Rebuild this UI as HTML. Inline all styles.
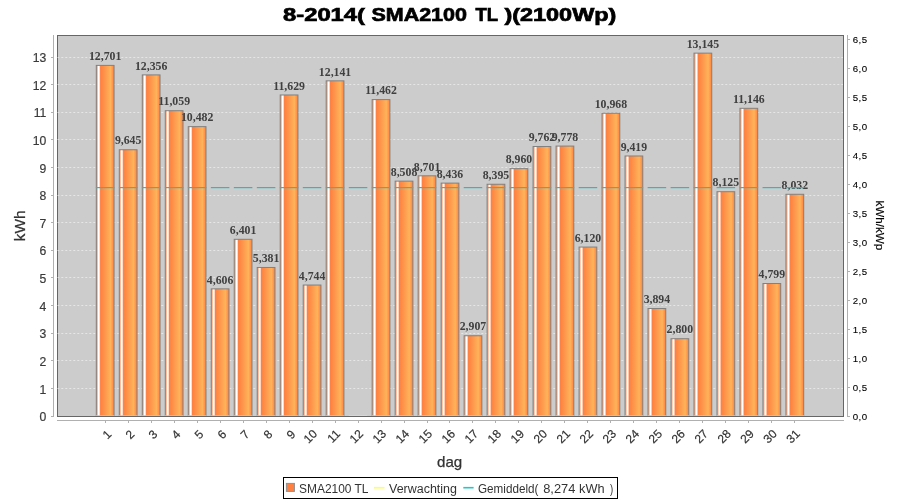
<!DOCTYPE html>
<html><head><meta charset="utf-8"><title>8-2014( SMA2100 TL )(2100Wp)</title>
<style>
html,body{margin:0;padding:0;background:#fff;}
body{width:900px;height:500px;overflow:hidden;position:relative;font-family:"Liberation Sans",sans-serif;}
svg{position:absolute;left:0;top:0;will-change:transform;}
text{font-family:"Liberation Sans",sans-serif;}
.v{font-family:"Liberation Serif",serif;font-weight:bold;font-size:11.8px;fill:#404040;text-anchor:middle;}
.ly{font-size:12.2px;fill:#3a3a3a;stroke:#3a3a3a;stroke-width:0.2px;text-anchor:end;}
.ry{font-size:9.7px;fill:#000;stroke:#000;stroke-width:0.1px;text-anchor:start;}
.cx{font-size:12px;fill:#333;stroke:#333;stroke-width:0.2px;text-anchor:end;}
</style></head><body>
<svg width="900" height="500" viewBox="0 0 900 500">
<defs>
<linearGradient id="bg" x1="0" y1="0" x2="1" y2="0">
<stop offset="0" stop-color="#ff9860"/><stop offset="0.075" stop-color="#ffc0a0"/><stop offset="0.115" stop-color="#ffffff"/><stop offset="0.16" stop-color="#ffffff"/><stop offset="0.24" stop-color="#ff8040"/><stop offset="0.80" stop-color="#ffb35a"/><stop offset="1" stop-color="#ff8040"/>
</linearGradient>
</defs>
<rect x="0" y="0" width="900" height="500" fill="#ffffff"/>
<g id="title" font-weight="bold" font-size="18.5px" fill="#000" stroke="#000" stroke-width="0.7">
<text x="283.0" y="20.6" textLength="82.0" lengthAdjust="spacingAndGlyphs">8-2014(</text>
<text x="371.4" y="20.6" textLength="95.6" lengthAdjust="spacingAndGlyphs">SMA2100</text>
<text x="475.4" y="20.6" textLength="22.6" lengthAdjust="spacingAndGlyphs">TL</text>
<text x="504.4" y="20.6" textLength="112.0" lengthAdjust="spacingAndGlyphs">)(2100Wp)</text>
</g>
<rect x="57.5" y="35.5" width="786" height="381" fill="#cccccc" stroke="#666666" stroke-width="1"/>
<line x1="57.3" x2="843" y1="388.5" y2="388.5" stroke="#ffffff" stroke-opacity="0.5" stroke-width="1" stroke-dasharray="2 2"/>
<line x1="57.3" x2="843" y1="360.5" y2="360.5" stroke="#ffffff" stroke-opacity="0.5" stroke-width="1" stroke-dasharray="2 2"/>
<line x1="57.3" x2="843" y1="333.5" y2="333.5" stroke="#ffffff" stroke-opacity="0.5" stroke-width="1" stroke-dasharray="2 2"/>
<line x1="57.3" x2="843" y1="305.5" y2="305.5" stroke="#ffffff" stroke-opacity="0.5" stroke-width="1" stroke-dasharray="2 2"/>
<line x1="57.3" x2="843" y1="277.5" y2="277.5" stroke="#ffffff" stroke-opacity="0.5" stroke-width="1" stroke-dasharray="2 2"/>
<line x1="57.3" x2="843" y1="250.5" y2="250.5" stroke="#ffffff" stroke-opacity="0.5" stroke-width="1" stroke-dasharray="2 2"/>
<line x1="57.3" x2="843" y1="222.5" y2="222.5" stroke="#ffffff" stroke-opacity="0.5" stroke-width="1" stroke-dasharray="2 2"/>
<line x1="57.3" x2="843" y1="195.5" y2="195.5" stroke="#ffffff" stroke-opacity="0.5" stroke-width="1" stroke-dasharray="2 2"/>
<line x1="57.3" x2="843" y1="167.5" y2="167.5" stroke="#ffffff" stroke-opacity="0.5" stroke-width="1" stroke-dasharray="2 2"/>
<line x1="57.3" x2="843" y1="139.5" y2="139.5" stroke="#ffffff" stroke-opacity="0.5" stroke-width="1" stroke-dasharray="2 2"/>
<line x1="57.3" x2="843" y1="112.5" y2="112.5" stroke="#ffffff" stroke-opacity="0.5" stroke-width="1" stroke-dasharray="2 2"/>
<line x1="57.3" x2="843" y1="84.5" y2="84.5" stroke="#ffffff" stroke-opacity="0.5" stroke-width="1" stroke-dasharray="2 2"/>
<line x1="57.3" x2="843" y1="57.5" y2="57.5" stroke="#ffffff" stroke-opacity="0.5" stroke-width="1" stroke-dasharray="2 2"/>
<rect x="96.30" y="65.39" width="17.75" height="350.61" fill="url(#bg)"/>
<rect x="96.30" y="65.39" width="17.75" height="350.61" fill="none" stroke="#808080" stroke-width="1"/>
<text class="v" x="105.17" y="60.09">12,701</text>
<rect x="119.29" y="149.75" width="17.75" height="266.25" fill="url(#bg)"/>
<rect x="119.29" y="149.75" width="17.75" height="266.25" fill="none" stroke="#808080" stroke-width="1"/>
<text class="v" x="128.16" y="144.45">9,645</text>
<rect x="142.28" y="74.91" width="17.75" height="341.09" fill="url(#bg)"/>
<rect x="142.28" y="74.91" width="17.75" height="341.09" fill="none" stroke="#808080" stroke-width="1"/>
<text class="v" x="151.15" y="69.61">12,356</text>
<rect x="165.27" y="110.72" width="17.75" height="305.28" fill="url(#bg)"/>
<rect x="165.27" y="110.72" width="17.75" height="305.28" fill="none" stroke="#808080" stroke-width="1"/>
<text class="v" x="174.14" y="105.42">11,059</text>
<rect x="188.25" y="126.64" width="17.75" height="289.36" fill="url(#bg)"/>
<rect x="188.25" y="126.64" width="17.75" height="289.36" fill="none" stroke="#808080" stroke-width="1"/>
<text class="v" x="197.13" y="121.34">10,482</text>
<rect x="211.24" y="288.85" width="17.75" height="127.15" fill="url(#bg)"/>
<rect x="211.24" y="288.85" width="17.75" height="127.15" fill="none" stroke="#808080" stroke-width="1"/>
<text class="v" x="220.12" y="283.55">4,606</text>
<rect x="234.23" y="239.30" width="17.75" height="176.70" fill="url(#bg)"/>
<rect x="234.23" y="239.30" width="17.75" height="176.70" fill="none" stroke="#808080" stroke-width="1"/>
<text class="v" x="243.10" y="234.00">6,401</text>
<rect x="257.22" y="267.46" width="17.75" height="148.54" fill="url(#bg)"/>
<rect x="257.22" y="267.46" width="17.75" height="148.54" fill="none" stroke="#808080" stroke-width="1"/>
<text class="v" x="266.09" y="262.16">5,381</text>
<rect x="280.21" y="94.98" width="17.75" height="321.02" fill="url(#bg)"/>
<rect x="280.21" y="94.98" width="17.75" height="321.02" fill="none" stroke="#808080" stroke-width="1"/>
<text class="v" x="289.08" y="89.68">11,629</text>
<rect x="303.20" y="285.04" width="17.75" height="130.96" fill="url(#bg)"/>
<rect x="303.20" y="285.04" width="17.75" height="130.96" fill="none" stroke="#808080" stroke-width="1"/>
<text class="v" x="312.07" y="279.74">4,744</text>
<rect x="326.18" y="80.85" width="17.75" height="335.15" fill="url(#bg)"/>
<rect x="326.18" y="80.85" width="17.75" height="335.15" fill="none" stroke="#808080" stroke-width="1"/>
<text class="v" x="335.06" y="75.55">12,141</text>
<rect x="372.16" y="99.59" width="17.75" height="316.41" fill="url(#bg)"/>
<rect x="372.16" y="99.59" width="17.75" height="316.41" fill="none" stroke="#808080" stroke-width="1"/>
<text class="v" x="381.03" y="94.29">11,462</text>
<rect x="395.15" y="181.14" width="17.75" height="234.86" fill="url(#bg)"/>
<rect x="395.15" y="181.14" width="17.75" height="234.86" fill="none" stroke="#808080" stroke-width="1"/>
<text class="v" x="404.02" y="175.84">8,508</text>
<rect x="418.14" y="175.81" width="17.75" height="240.19" fill="url(#bg)"/>
<rect x="418.14" y="175.81" width="17.75" height="240.19" fill="none" stroke="#808080" stroke-width="1"/>
<text class="v" x="427.01" y="170.51">8,701</text>
<rect x="441.13" y="183.12" width="17.75" height="232.88" fill="url(#bg)"/>
<rect x="441.13" y="183.12" width="17.75" height="232.88" fill="none" stroke="#808080" stroke-width="1"/>
<text class="v" x="450.00" y="177.82">8,436</text>
<rect x="464.11" y="335.75" width="17.75" height="80.25" fill="url(#bg)"/>
<rect x="464.11" y="335.75" width="17.75" height="80.25" fill="none" stroke="#808080" stroke-width="1"/>
<text class="v" x="472.99" y="330.45">2,907</text>
<rect x="487.10" y="184.26" width="17.75" height="231.74" fill="url(#bg)"/>
<rect x="487.10" y="184.26" width="17.75" height="231.74" fill="none" stroke="#808080" stroke-width="1"/>
<text class="v" x="495.98" y="178.96">8,395</text>
<rect x="510.09" y="168.66" width="17.75" height="247.34" fill="url(#bg)"/>
<rect x="510.09" y="168.66" width="17.75" height="247.34" fill="none" stroke="#808080" stroke-width="1"/>
<text class="v" x="518.97" y="163.36">8,960</text>
<rect x="533.08" y="146.52" width="17.75" height="269.48" fill="url(#bg)"/>
<rect x="533.08" y="146.52" width="17.75" height="269.48" fill="none" stroke="#808080" stroke-width="1"/>
<text class="v" x="541.95" y="141.22">9,762</text>
<rect x="556.07" y="146.08" width="17.75" height="269.92" fill="url(#bg)"/>
<rect x="556.07" y="146.08" width="17.75" height="269.92" fill="none" stroke="#808080" stroke-width="1"/>
<text class="v" x="564.94" y="140.78">9,778</text>
<rect x="579.06" y="247.06" width="17.75" height="168.94" fill="url(#bg)"/>
<rect x="579.06" y="247.06" width="17.75" height="168.94" fill="none" stroke="#808080" stroke-width="1"/>
<text class="v" x="587.93" y="241.76">6,120</text>
<rect x="602.04" y="113.23" width="17.75" height="302.77" fill="url(#bg)"/>
<rect x="602.04" y="113.23" width="17.75" height="302.77" fill="none" stroke="#808080" stroke-width="1"/>
<text class="v" x="610.92" y="107.93">10,968</text>
<rect x="625.03" y="155.99" width="17.75" height="260.01" fill="url(#bg)"/>
<rect x="625.03" y="155.99" width="17.75" height="260.01" fill="none" stroke="#808080" stroke-width="1"/>
<text class="v" x="633.91" y="150.69">9,419</text>
<rect x="648.02" y="308.51" width="17.75" height="107.49" fill="url(#bg)"/>
<rect x="648.02" y="308.51" width="17.75" height="107.49" fill="none" stroke="#808080" stroke-width="1"/>
<text class="v" x="656.90" y="303.21">3,894</text>
<rect x="671.01" y="338.71" width="17.75" height="77.29" fill="url(#bg)"/>
<rect x="671.01" y="338.71" width="17.75" height="77.29" fill="none" stroke="#808080" stroke-width="1"/>
<text class="v" x="679.88" y="333.41">2,800</text>
<rect x="694.00" y="53.13" width="17.75" height="362.87" fill="url(#bg)"/>
<rect x="694.00" y="53.13" width="17.75" height="362.87" fill="none" stroke="#808080" stroke-width="1"/>
<text class="v" x="702.87" y="47.83">13,145</text>
<rect x="716.99" y="191.71" width="17.75" height="224.29" fill="url(#bg)"/>
<rect x="716.99" y="191.71" width="17.75" height="224.29" fill="none" stroke="#808080" stroke-width="1"/>
<text class="v" x="725.86" y="186.41">8,125</text>
<rect x="739.97" y="108.31" width="17.75" height="307.69" fill="url(#bg)"/>
<rect x="739.97" y="108.31" width="17.75" height="307.69" fill="none" stroke="#808080" stroke-width="1"/>
<text class="v" x="748.85" y="103.01">11,146</text>
<rect x="762.96" y="283.52" width="17.75" height="132.48" fill="url(#bg)"/>
<rect x="762.96" y="283.52" width="17.75" height="132.48" fill="none" stroke="#808080" stroke-width="1"/>
<text class="v" x="771.84" y="278.22">4,799</text>
<rect x="785.95" y="194.28" width="17.75" height="221.72" fill="url(#bg)"/>
<rect x="785.95" y="194.28" width="17.75" height="221.72" fill="none" stroke="#808080" stroke-width="1"/>
<text class="v" x="794.83" y="188.98">8,032</text>
<line x1="95.90" x2="114.45" y1="415.5" y2="415.5" stroke="#ffee40" stroke-opacity="0.55" stroke-width="1"/>
<line x1="118.89" x2="137.44" y1="415.5" y2="415.5" stroke="#ffee40" stroke-opacity="0.55" stroke-width="1"/>
<line x1="141.88" x2="160.43" y1="415.5" y2="415.5" stroke="#ffee40" stroke-opacity="0.55" stroke-width="1"/>
<line x1="164.87" x2="183.41" y1="415.5" y2="415.5" stroke="#ffee40" stroke-opacity="0.55" stroke-width="1"/>
<line x1="187.85" x2="206.40" y1="415.5" y2="415.5" stroke="#ffee40" stroke-opacity="0.55" stroke-width="1"/>
<line x1="210.84" x2="229.39" y1="415.5" y2="415.5" stroke="#ffee40" stroke-opacity="0.55" stroke-width="1"/>
<line x1="233.83" x2="252.38" y1="415.5" y2="415.5" stroke="#ffee40" stroke-opacity="0.55" stroke-width="1"/>
<line x1="256.82" x2="275.37" y1="415.5" y2="415.5" stroke="#ffee40" stroke-opacity="0.55" stroke-width="1"/>
<line x1="279.81" x2="298.36" y1="415.5" y2="415.5" stroke="#ffee40" stroke-opacity="0.55" stroke-width="1"/>
<line x1="302.80" x2="321.34" y1="415.5" y2="415.5" stroke="#ffee40" stroke-opacity="0.55" stroke-width="1"/>
<line x1="325.78" x2="344.33" y1="415.5" y2="415.5" stroke="#ffee40" stroke-opacity="0.55" stroke-width="1"/>
<line x1="348.77" x2="367.32" y1="415.5" y2="415.5" stroke="#ffee40" stroke-opacity="0.55" stroke-width="1"/>
<line x1="371.76" x2="390.31" y1="415.5" y2="415.5" stroke="#ffee40" stroke-opacity="0.55" stroke-width="1"/>
<line x1="394.75" x2="413.30" y1="415.5" y2="415.5" stroke="#ffee40" stroke-opacity="0.55" stroke-width="1"/>
<line x1="417.74" x2="436.29" y1="415.5" y2="415.5" stroke="#ffee40" stroke-opacity="0.55" stroke-width="1"/>
<line x1="440.73" x2="459.27" y1="415.5" y2="415.5" stroke="#ffee40" stroke-opacity="0.55" stroke-width="1"/>
<line x1="463.71" x2="482.26" y1="415.5" y2="415.5" stroke="#ffee40" stroke-opacity="0.55" stroke-width="1"/>
<line x1="486.70" x2="505.25" y1="415.5" y2="415.5" stroke="#ffee40" stroke-opacity="0.55" stroke-width="1"/>
<line x1="509.69" x2="528.24" y1="415.5" y2="415.5" stroke="#ffee40" stroke-opacity="0.55" stroke-width="1"/>
<line x1="532.68" x2="551.23" y1="415.5" y2="415.5" stroke="#ffee40" stroke-opacity="0.55" stroke-width="1"/>
<line x1="555.67" x2="574.22" y1="415.5" y2="415.5" stroke="#ffee40" stroke-opacity="0.55" stroke-width="1"/>
<line x1="578.66" x2="597.20" y1="415.5" y2="415.5" stroke="#ffee40" stroke-opacity="0.55" stroke-width="1"/>
<line x1="601.64" x2="620.19" y1="415.5" y2="415.5" stroke="#ffee40" stroke-opacity="0.55" stroke-width="1"/>
<line x1="624.63" x2="643.18" y1="415.5" y2="415.5" stroke="#ffee40" stroke-opacity="0.55" stroke-width="1"/>
<line x1="647.62" x2="666.17" y1="415.5" y2="415.5" stroke="#ffee40" stroke-opacity="0.55" stroke-width="1"/>
<line x1="670.61" x2="689.16" y1="415.5" y2="415.5" stroke="#ffee40" stroke-opacity="0.55" stroke-width="1"/>
<line x1="693.60" x2="712.15" y1="415.5" y2="415.5" stroke="#ffee40" stroke-opacity="0.55" stroke-width="1"/>
<line x1="716.59" x2="735.13" y1="415.5" y2="415.5" stroke="#ffee40" stroke-opacity="0.55" stroke-width="1"/>
<line x1="739.57" x2="758.12" y1="415.5" y2="415.5" stroke="#ffee40" stroke-opacity="0.55" stroke-width="1"/>
<line x1="762.56" x2="781.11" y1="415.5" y2="415.5" stroke="#ffee40" stroke-opacity="0.55" stroke-width="1"/>
<line x1="785.55" x2="804.10" y1="415.5" y2="415.5" stroke="#ffee40" stroke-opacity="0.55" stroke-width="1"/>
<line x1="95.90" x2="114.45" y1="187.60" y2="187.60" stroke="#20c0c0" stroke-width="1.2"/>
<line x1="118.89" x2="137.44" y1="187.60" y2="187.60" stroke="#20c0c0" stroke-width="1.2"/>
<line x1="141.88" x2="160.43" y1="187.60" y2="187.60" stroke="#20c0c0" stroke-width="1.2"/>
<line x1="164.87" x2="183.41" y1="187.60" y2="187.60" stroke="#20c0c0" stroke-width="1.2"/>
<line x1="187.85" x2="206.40" y1="187.60" y2="187.60" stroke="#20c0c0" stroke-width="1.2"/>
<line x1="210.84" x2="229.39" y1="187.60" y2="187.60" stroke="#20c0c0" stroke-width="1.2"/>
<line x1="233.83" x2="252.38" y1="187.60" y2="187.60" stroke="#20c0c0" stroke-width="1.2"/>
<line x1="256.82" x2="275.37" y1="187.60" y2="187.60" stroke="#20c0c0" stroke-width="1.2"/>
<line x1="279.81" x2="298.36" y1="187.60" y2="187.60" stroke="#20c0c0" stroke-width="1.2"/>
<line x1="302.80" x2="321.34" y1="187.60" y2="187.60" stroke="#20c0c0" stroke-width="1.2"/>
<line x1="325.78" x2="344.33" y1="187.60" y2="187.60" stroke="#20c0c0" stroke-width="1.2"/>
<line x1="348.77" x2="367.32" y1="187.60" y2="187.60" stroke="#20c0c0" stroke-width="1.2"/>
<line x1="371.76" x2="390.31" y1="187.60" y2="187.60" stroke="#20c0c0" stroke-width="1.2"/>
<line x1="394.75" x2="413.30" y1="187.60" y2="187.60" stroke="#20c0c0" stroke-width="1.2"/>
<line x1="417.74" x2="436.29" y1="187.60" y2="187.60" stroke="#20c0c0" stroke-width="1.2"/>
<line x1="440.73" x2="459.27" y1="187.60" y2="187.60" stroke="#20c0c0" stroke-width="1.2"/>
<line x1="463.71" x2="482.26" y1="187.60" y2="187.60" stroke="#20c0c0" stroke-width="1.2"/>
<line x1="486.70" x2="505.25" y1="187.60" y2="187.60" stroke="#20c0c0" stroke-width="1.2"/>
<line x1="509.69" x2="528.24" y1="187.60" y2="187.60" stroke="#20c0c0" stroke-width="1.2"/>
<line x1="532.68" x2="551.23" y1="187.60" y2="187.60" stroke="#20c0c0" stroke-width="1.2"/>
<line x1="555.67" x2="574.22" y1="187.60" y2="187.60" stroke="#20c0c0" stroke-width="1.2"/>
<line x1="578.66" x2="597.20" y1="187.60" y2="187.60" stroke="#20c0c0" stroke-width="1.2"/>
<line x1="601.64" x2="620.19" y1="187.60" y2="187.60" stroke="#20c0c0" stroke-width="1.2"/>
<line x1="624.63" x2="643.18" y1="187.60" y2="187.60" stroke="#20c0c0" stroke-width="1.2"/>
<line x1="647.62" x2="666.17" y1="187.60" y2="187.60" stroke="#20c0c0" stroke-width="1.2"/>
<line x1="670.61" x2="689.16" y1="187.60" y2="187.60" stroke="#20c0c0" stroke-width="1.2"/>
<line x1="693.60" x2="712.15" y1="187.60" y2="187.60" stroke="#20c0c0" stroke-width="1.2"/>
<line x1="716.59" x2="735.13" y1="187.60" y2="187.60" stroke="#20c0c0" stroke-width="1.2"/>
<line x1="739.57" x2="758.12" y1="187.60" y2="187.60" stroke="#20c0c0" stroke-width="1.2"/>
<line x1="762.56" x2="781.11" y1="187.60" y2="187.60" stroke="#20c0c0" stroke-width="1.2"/>
<line x1="785.55" x2="804.10" y1="187.60" y2="187.60" stroke="#20c0c0" stroke-width="1.2"/>
<line x1="57" x2="844" y1="416.5" y2="416.5" stroke="#666666" stroke-width="1"/>
<line x1="53.5" x2="53.5" y1="35" y2="417" stroke="#b0b0b0" stroke-width="1"/>
<line x1="51" x2="54" y1="416.5" y2="416.5" stroke="#b0b0b0" stroke-width="1"/>
<text class="ly" x="46.4" y="421.10">0</text>
<line x1="51" x2="54" y1="388.5" y2="388.5" stroke="#b0b0b0" stroke-width="1"/>
<text class="ly" x="46.4" y="393.50">1</text>
<line x1="51" x2="54" y1="360.5" y2="360.5" stroke="#b0b0b0" stroke-width="1"/>
<text class="ly" x="46.4" y="365.89">2</text>
<line x1="51" x2="54" y1="333.5" y2="333.5" stroke="#b0b0b0" stroke-width="1"/>
<text class="ly" x="46.4" y="338.29">3</text>
<line x1="51" x2="54" y1="305.5" y2="305.5" stroke="#b0b0b0" stroke-width="1"/>
<text class="ly" x="46.4" y="310.68">4</text>
<line x1="51" x2="54" y1="277.5" y2="277.5" stroke="#b0b0b0" stroke-width="1"/>
<text class="ly" x="46.4" y="283.08">5</text>
<line x1="51" x2="54" y1="250.5" y2="250.5" stroke="#b0b0b0" stroke-width="1"/>
<text class="ly" x="46.4" y="255.47">6</text>
<line x1="51" x2="54" y1="222.5" y2="222.5" stroke="#b0b0b0" stroke-width="1"/>
<text class="ly" x="46.4" y="227.86">7</text>
<line x1="51" x2="54" y1="195.5" y2="195.5" stroke="#b0b0b0" stroke-width="1"/>
<text class="ly" x="46.4" y="200.26">8</text>
<line x1="51" x2="54" y1="167.5" y2="167.5" stroke="#b0b0b0" stroke-width="1"/>
<text class="ly" x="46.4" y="172.66">9</text>
<line x1="51" x2="54" y1="139.5" y2="139.5" stroke="#b0b0b0" stroke-width="1"/>
<text class="ly" x="46.4" y="145.05">10</text>
<line x1="51" x2="54" y1="112.5" y2="112.5" stroke="#b0b0b0" stroke-width="1"/>
<text class="ly" x="46.4" y="117.44">11</text>
<line x1="51" x2="54" y1="84.5" y2="84.5" stroke="#b0b0b0" stroke-width="1"/>
<text class="ly" x="46.4" y="89.84">12</text>
<line x1="51" x2="54" y1="57.5" y2="57.5" stroke="#b0b0b0" stroke-width="1"/>
<text class="ly" x="46.4" y="62.23">13</text>
<line x1="847.5" x2="847.5" y1="35" y2="417" stroke="#b0b0b0" stroke-width="1"/>
<line x1="847" x2="850" y1="416.5" y2="416.5" stroke="#b0b0b0" stroke-width="1"/>
<text class="ry" x="852.7" y="420.10" textLength="14.4">0,0</text>
<line x1="847" x2="850" y1="387.5" y2="387.5" stroke="#b0b0b0" stroke-width="1"/>
<text class="ry" x="852.7" y="391.11" textLength="14.4">0,5</text>
<line x1="847" x2="850" y1="358.5" y2="358.5" stroke="#b0b0b0" stroke-width="1"/>
<text class="ry" x="852.7" y="362.13" textLength="14.4">1,0</text>
<line x1="847" x2="850" y1="329.5" y2="329.5" stroke="#b0b0b0" stroke-width="1"/>
<text class="ry" x="852.7" y="333.14" textLength="14.4">1,5</text>
<line x1="847" x2="850" y1="300.5" y2="300.5" stroke="#b0b0b0" stroke-width="1"/>
<text class="ry" x="852.7" y="304.16" textLength="14.4">2,0</text>
<line x1="847" x2="850" y1="271.5" y2="271.5" stroke="#b0b0b0" stroke-width="1"/>
<text class="ry" x="852.7" y="275.17" textLength="14.4">2,5</text>
<line x1="847" x2="850" y1="242.5" y2="242.5" stroke="#b0b0b0" stroke-width="1"/>
<text class="ry" x="852.7" y="246.19" textLength="14.4">3,0</text>
<line x1="847" x2="850" y1="213.5" y2="213.5" stroke="#b0b0b0" stroke-width="1"/>
<text class="ry" x="852.7" y="217.20" textLength="14.4">3,5</text>
<line x1="847" x2="850" y1="184.5" y2="184.5" stroke="#b0b0b0" stroke-width="1"/>
<text class="ry" x="852.7" y="188.22" textLength="14.4">4,0</text>
<line x1="847" x2="850" y1="155.5" y2="155.5" stroke="#b0b0b0" stroke-width="1"/>
<text class="ry" x="852.7" y="159.23" textLength="14.4">4,5</text>
<line x1="847" x2="850" y1="126.5" y2="126.5" stroke="#b0b0b0" stroke-width="1"/>
<text class="ry" x="852.7" y="130.25" textLength="14.4">5,0</text>
<line x1="847" x2="850" y1="97.5" y2="97.5" stroke="#b0b0b0" stroke-width="1"/>
<text class="ry" x="852.7" y="101.26" textLength="14.4">5,5</text>
<line x1="847" x2="850" y1="68.5" y2="68.5" stroke="#b0b0b0" stroke-width="1"/>
<text class="ry" x="852.7" y="72.28" textLength="14.4">6,0</text>
<line x1="847" x2="850" y1="39.5" y2="39.5" stroke="#b0b0b0" stroke-width="1"/>
<text class="ry" x="852.7" y="43.29" textLength="14.4">6,5</text>
<line x1="57" x2="844" y1="420.5" y2="420.5" stroke="#b0b0b0" stroke-width="1"/>
<line x1="105.5" x2="105.5" y1="420" y2="423" stroke="#b0b0b0" stroke-width="1"/>
<text class="cx" transform="translate(105.17,428) rotate(-45)" x="0" y="10">1</text>
<line x1="128.5" x2="128.5" y1="420" y2="423" stroke="#b0b0b0" stroke-width="1"/>
<text class="cx" transform="translate(128.16,428) rotate(-45)" x="0" y="10">2</text>
<line x1="151.5" x2="151.5" y1="420" y2="423" stroke="#b0b0b0" stroke-width="1"/>
<text class="cx" transform="translate(151.15,428) rotate(-45)" x="0" y="10">3</text>
<line x1="174.5" x2="174.5" y1="420" y2="423" stroke="#b0b0b0" stroke-width="1"/>
<text class="cx" transform="translate(174.14,428) rotate(-45)" x="0" y="10">4</text>
<line x1="197.5" x2="197.5" y1="420" y2="423" stroke="#b0b0b0" stroke-width="1"/>
<text class="cx" transform="translate(197.13,428) rotate(-45)" x="0" y="10">5</text>
<line x1="220.5" x2="220.5" y1="420" y2="423" stroke="#b0b0b0" stroke-width="1"/>
<text class="cx" transform="translate(220.12,428) rotate(-45)" x="0" y="10">6</text>
<line x1="243.5" x2="243.5" y1="420" y2="423" stroke="#b0b0b0" stroke-width="1"/>
<text class="cx" transform="translate(243.10,428) rotate(-45)" x="0" y="10">7</text>
<line x1="266.5" x2="266.5" y1="420" y2="423" stroke="#b0b0b0" stroke-width="1"/>
<text class="cx" transform="translate(266.09,428) rotate(-45)" x="0" y="10">8</text>
<line x1="289.5" x2="289.5" y1="420" y2="423" stroke="#b0b0b0" stroke-width="1"/>
<text class="cx" transform="translate(289.08,428) rotate(-45)" x="0" y="10">9</text>
<line x1="312.5" x2="312.5" y1="420" y2="423" stroke="#b0b0b0" stroke-width="1"/>
<text class="cx" transform="translate(310.97,427.5) rotate(-45)" x="0" y="10">10</text>
<line x1="335.5" x2="335.5" y1="420" y2="423" stroke="#b0b0b0" stroke-width="1"/>
<text class="cx" transform="translate(333.96,427.5) rotate(-45)" x="0" y="10">11</text>
<line x1="358.5" x2="358.5" y1="420" y2="423" stroke="#b0b0b0" stroke-width="1"/>
<text class="cx" transform="translate(356.95,427.5) rotate(-45)" x="0" y="10">12</text>
<line x1="381.5" x2="381.5" y1="420" y2="423" stroke="#b0b0b0" stroke-width="1"/>
<text class="cx" transform="translate(379.93,427.5) rotate(-45)" x="0" y="10">13</text>
<line x1="404.5" x2="404.5" y1="420" y2="423" stroke="#b0b0b0" stroke-width="1"/>
<text class="cx" transform="translate(402.92,427.5) rotate(-45)" x="0" y="10">14</text>
<line x1="427.5" x2="427.5" y1="420" y2="423" stroke="#b0b0b0" stroke-width="1"/>
<text class="cx" transform="translate(425.91,427.5) rotate(-45)" x="0" y="10">15</text>
<line x1="449.5" x2="449.5" y1="420" y2="423" stroke="#b0b0b0" stroke-width="1"/>
<text class="cx" transform="translate(448.90,427.5) rotate(-45)" x="0" y="10">16</text>
<line x1="472.5" x2="472.5" y1="420" y2="423" stroke="#b0b0b0" stroke-width="1"/>
<text class="cx" transform="translate(471.89,427.5) rotate(-45)" x="0" y="10">17</text>
<line x1="495.5" x2="495.5" y1="420" y2="423" stroke="#b0b0b0" stroke-width="1"/>
<text class="cx" transform="translate(494.88,427.5) rotate(-45)" x="0" y="10">18</text>
<line x1="518.5" x2="518.5" y1="420" y2="423" stroke="#b0b0b0" stroke-width="1"/>
<text class="cx" transform="translate(517.87,427.5) rotate(-45)" x="0" y="10">19</text>
<line x1="541.5" x2="541.5" y1="420" y2="423" stroke="#b0b0b0" stroke-width="1"/>
<text class="cx" transform="translate(540.85,427.5) rotate(-45)" x="0" y="10">20</text>
<line x1="564.5" x2="564.5" y1="420" y2="423" stroke="#b0b0b0" stroke-width="1"/>
<text class="cx" transform="translate(563.84,427.5) rotate(-45)" x="0" y="10">21</text>
<line x1="587.5" x2="587.5" y1="420" y2="423" stroke="#b0b0b0" stroke-width="1"/>
<text class="cx" transform="translate(586.83,427.5) rotate(-45)" x="0" y="10">22</text>
<line x1="610.5" x2="610.5" y1="420" y2="423" stroke="#b0b0b0" stroke-width="1"/>
<text class="cx" transform="translate(609.82,427.5) rotate(-45)" x="0" y="10">23</text>
<line x1="633.5" x2="633.5" y1="420" y2="423" stroke="#b0b0b0" stroke-width="1"/>
<text class="cx" transform="translate(632.81,427.5) rotate(-45)" x="0" y="10">24</text>
<line x1="656.5" x2="656.5" y1="420" y2="423" stroke="#b0b0b0" stroke-width="1"/>
<text class="cx" transform="translate(655.80,427.5) rotate(-45)" x="0" y="10">25</text>
<line x1="679.5" x2="679.5" y1="420" y2="423" stroke="#b0b0b0" stroke-width="1"/>
<text class="cx" transform="translate(678.78,427.5) rotate(-45)" x="0" y="10">26</text>
<line x1="702.5" x2="702.5" y1="420" y2="423" stroke="#b0b0b0" stroke-width="1"/>
<text class="cx" transform="translate(701.77,427.5) rotate(-45)" x="0" y="10">27</text>
<line x1="725.5" x2="725.5" y1="420" y2="423" stroke="#b0b0b0" stroke-width="1"/>
<text class="cx" transform="translate(724.76,427.5) rotate(-45)" x="0" y="10">28</text>
<line x1="748.5" x2="748.5" y1="420" y2="423" stroke="#b0b0b0" stroke-width="1"/>
<text class="cx" transform="translate(747.75,427.5) rotate(-45)" x="0" y="10">29</text>
<line x1="771.5" x2="771.5" y1="420" y2="423" stroke="#b0b0b0" stroke-width="1"/>
<text class="cx" transform="translate(770.74,427.5) rotate(-45)" x="0" y="10">30</text>
<line x1="794.5" x2="794.5" y1="420" y2="423" stroke="#b0b0b0" stroke-width="1"/>
<text class="cx" transform="translate(793.73,427.5) rotate(-45)" x="0" y="10">31</text>
<text id="lkwh" transform="translate(25,241.2) rotate(-90)" font-size="15px" fill="#333" stroke="#333" stroke-width="0.25" textLength="30.6" lengthAdjust="spacingAndGlyphs">kWh</text>
<text id="ldag" x="437" y="466.7" font-size="15px" fill="#333" stroke="#333" stroke-width="0.25" textLength="25.2" lengthAdjust="spacingAndGlyphs">dag</text>
<text id="rkwh" transform="translate(875.8,200.5) rotate(90)" font-size="11.6px" fill="#000" stroke="#000" stroke-width="0.15" textLength="49.7" lengthAdjust="spacingAndGlyphs">kWh/kWp</text>
<rect x="283.5" y="477.5" width="334" height="21" fill="#ffffff" stroke="#000000" stroke-width="1"/>
<rect x="286.4" y="483.4" width="8" height="8" fill="#ff8040" stroke="#909090" stroke-width="1"/>
<text id="lg1" x="299" y="492.6" font-size="12px" fill="#333" textLength="69.5" lengthAdjust="spacingAndGlyphs">SMA2100 TL</text>
<line x1="374" x2="384.5" y1="487.7" y2="487.7" stroke="#ffff60" stroke-width="1.6"/>
<text id="lg2" x="389" y="492.6" font-size="12px" fill="#333" textLength="68" lengthAdjust="spacingAndGlyphs">Verwachting</text>
<line x1="463.3" x2="473.6" y1="487.7" y2="487.7" stroke="#20c8c8" stroke-width="1.6"/>
<g id="lg3" font-size="12px" fill="#333">
<text x="478.0" y="492.6" textLength="60.4" lengthAdjust="spacingAndGlyphs">Gemiddeld(</text>
<text x="543.2" y="492.6" textLength="32.1" lengthAdjust="spacingAndGlyphs">8,274</text>
<text x="579.1" y="492.6" textLength="25.5" lengthAdjust="spacingAndGlyphs">kWh</text>
<text x="610.0" y="492.6" textLength="3.2" lengthAdjust="spacingAndGlyphs">)</text>
</g>
</svg>
</body></html>
